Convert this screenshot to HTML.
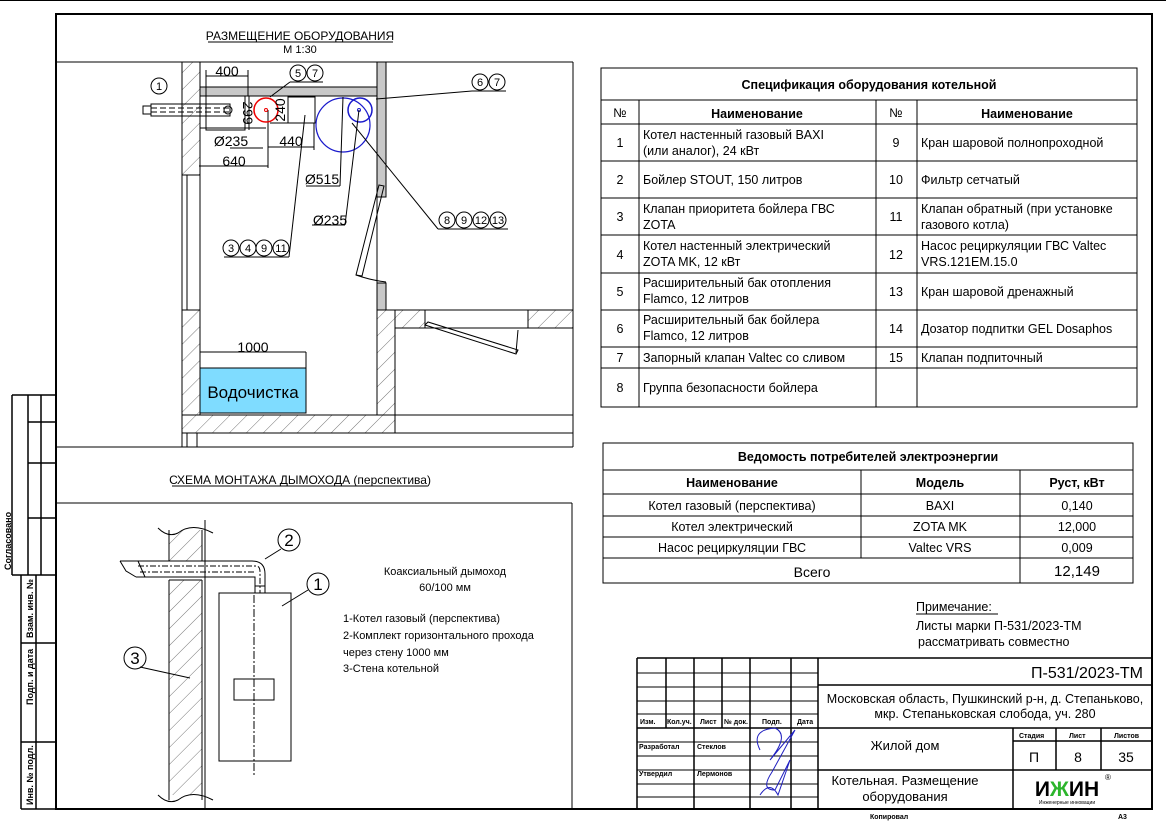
<!DOCTYPE html>
<html><head><meta charset="utf-8"><style>
html,body{margin:0;padding:0;background:#fff}
svg{display:block}
text{font-family:"Liberation Sans",sans-serif;fill:#000}
</style></head><body>
<svg width="1166" height="824" viewBox="0 0 1166 824" xmlns="http://www.w3.org/2000/svg">
<defs>
<pattern id="h" patternUnits="userSpaceOnUse" width="12" height="12" patternTransform="rotate(45)">
<rect width="12" height="12" fill="#fff"/><line x1="0" y1="0" x2="0" y2="12" stroke="#555" stroke-width="0.8"/>
</pattern>
</defs>
<line x1="0" y1="0.5" x2="1166" y2="0.5" stroke="#000"/>
<rect x="56" y="14" width="1096" height="795" fill="none" stroke="#000" stroke-width="2"/>
<g stroke="#000" stroke-width="1.5" fill="none">
<line x1="12" y1="395" x2="56" y2="395"/>
<line x1="12" y1="395" x2="12" y2="575"/>
<line x1="28" y1="395" x2="28" y2="575"/>
<line x1="41" y1="395" x2="41" y2="575"/>
<line x1="28" y1="422" x2="56" y2="422"/>
<line x1="28" y1="463" x2="56" y2="463"/>
<line x1="28" y1="518" x2="56" y2="518"/>
<line x1="12" y1="575" x2="56" y2="575"/>
<line x1="21" y1="575" x2="21" y2="809"/>
<line x1="36" y1="575" x2="36" y2="809"/>
<line x1="21" y1="643" x2="56" y2="643"/>
<line x1="21" y1="742" x2="56" y2="742"/>
<line x1="21" y1="809" x2="56" y2="809"/>
</g>
<g font-size="9" font-weight="bold">
<text transform="translate(11,570) rotate(-90)">Согласовано</text>
<text transform="translate(33,638) rotate(-90)">Взам. инв. №</text>
<text transform="translate(33,705) rotate(-90)">Подп. и дата</text>
<text transform="translate(33,805) rotate(-90)">Инв. № подл.</text>
</g>

<text x="300" y="40" font-size="12" text-anchor="middle">РАЗМЕЩЕНИЕ ОБОРУДОВАНИЯ</text>
<line x1="208" y1="42" x2="393" y2="42" stroke="#000"/>
<text x="300" y="53" font-size="11" text-anchor="middle">М 1:30</text>
<g stroke="#000" stroke-width="1" fill="none">
<line x1="56" y1="62" x2="573" y2="62"/>
<line x1="573" y1="62" x2="573" y2="447"/>
<line x1="56" y1="447" x2="573" y2="447"/>
<rect x="182" y="62" width="18" height="113" fill="url(#h)"/>
<rect x="182" y="175" width="18" height="135"/>
<line x1="187" y1="175" x2="187" y2="310"/>
<rect x="182" y="310" width="18" height="105" fill="url(#h)"/>
<rect x="182" y="415" width="213" height="18" fill="url(#h)"/>
<line x1="182" y1="433" x2="182" y2="447"/><line x1="187" y1="433" x2="187" y2="447"/><line x1="197" y1="433" x2="197" y2="447"/>
<line x1="395" y1="433" x2="573" y2="433"/>
<line x1="395" y1="415" x2="573" y2="415"/>
<rect x="200" y="87" width="177" height="9" fill="#c8c8c8"/>
<rect x="377" y="62" width="9" height="135" fill="#c8c8c8"/>
<rect x="377" y="283" width="9" height="27" fill="#c8c8c8"/>
<line x1="377" y1="197" x2="377" y2="283"/>
<polygon points="379,185 384,186 362,276 356,275"/>
<path d="M356,275 Q370,280 386,282"/>
<rect x="377" y="310" width="18" height="105" fill="url(#h)"/>
<line x1="395" y1="310" x2="573" y2="310"/>
<line x1="395" y1="328" x2="573" y2="328"/>
<rect x="395" y="310" width="30" height="18" fill="url(#h)"/>
<rect x="528" y="310" width="45" height="18" fill="url(#h)"/>
<polygon points="425,325 428,322 518,350 516,354"/>
<line x1="518" y1="330" x2="516" y2="353"/>
<rect x="206" y="96" width="39" height="34"/>
<line x1="206" y1="76" x2="248" y2="76"/><line x1="206" y1="70" x2="206" y2="130"/><line x1="248" y1="70" x2="248" y2="96"/>
<line x1="249" y1="96" x2="249" y2="130"/>
<rect x="288" y="97" width="27" height="26"/>
<line x1="270" y1="123" x2="315" y2="123"/>
<line x1="268" y1="147" x2="314" y2="147"/><line x1="314" y1="123" x2="314" y2="150"/>
<line x1="199" y1="166" x2="268" y2="166"/><line x1="268" y1="110" x2="268" y2="168"/>
<rect x="143" y="106" width="8" height="8"/>
<rect x="151" y="104" width="79" height="12"/>
<line x1="151" y1="108" x2="230" y2="108" stroke-dasharray="6,3"/>
<line x1="151" y1="112" x2="230" y2="112" stroke-dasharray="6,3"/>
<circle cx="228" cy="110" r="4"/>
</g>
<circle cx="266" cy="110" r="12" fill="none" stroke="#e00" stroke-width="1.5"/>
<circle cx="266" cy="110" r="1.5" fill="none" stroke="#e00"/>
<circle cx="343" cy="125" r="27" fill="none" stroke="#1a1acc" stroke-width="1.2"/>
<circle cx="360" cy="110" r="12" fill="none" stroke="#1a1acc" stroke-width="1.5"/>
<circle cx="359" cy="110" r="1.5" fill="none" stroke="#1a1acc"/>
<g font-size="14">
<text x="227" y="76" text-anchor="middle">400</text>
<text transform="translate(243,113) rotate(90)" text-anchor="middle">299</text>
<text transform="translate(285,110) rotate(-90)" text-anchor="middle">240</text>
<text x="231" y="146" text-anchor="middle">Ø235</text>
<text x="291" y="146" text-anchor="middle">440</text>
<text x="234" y="166" text-anchor="middle">640</text>
<text x="322" y="184" text-anchor="middle">Ø515</text>
<text x="330" y="225" text-anchor="middle">Ø235</text>
<text x="253" y="352" text-anchor="middle">1000</text>
</g>
<rect x="200" y="368" width="106" height="45" fill="#7fdcff" stroke="#000"/>
<text x="253" y="398" font-size="17" text-anchor="middle">Водочистка</text>
<g stroke="#000" fill="none" stroke-width="1">
<line x1="200" y1="352" x2="306" y2="352"/><line x1="306" y1="352" x2="306" y2="368"/>
<line x1="200" y1="128" x2="266" y2="128"/>
<line x1="230" y1="148" x2="263" y2="148"/>
<line x1="306" y1="186" x2="340" y2="186"/><line x1="340" y1="186" x2="343" y2="97"/>
<line x1="312" y1="225" x2="345" y2="225"/><line x1="345" y1="225" x2="359" y2="110"/>
<line x1="290" y1="82" x2="323" y2="82"/><line x1="290" y1="82" x2="270" y2="97"/>
<line x1="472" y1="91" x2="506" y2="91"/><line x1="472" y1="91" x2="376" y2="99"/>
<line x1="438" y1="229" x2="508" y2="229"/><line x1="438" y1="229" x2="352" y2="123"/>
<line x1="224" y1="257" x2="289" y2="257"/><line x1="289" y1="257" x2="305" y2="115"/>
</g>
<g fill="none" stroke="#000">
<circle cx="159" cy="86" r="8"/>
<circle cx="298" cy="73" r="8"/><circle cx="315" cy="73" r="8"/>
<circle cx="480" cy="82" r="8"/><circle cx="497" cy="82" r="8"/>
<circle cx="447" cy="220" r="8"/><circle cx="464" cy="220" r="8"/><circle cx="481" cy="220" r="8"/><circle cx="498" cy="220" r="8"/>
<circle cx="231" cy="248" r="8"/><circle cx="248" cy="248" r="8"/><circle cx="264" cy="248" r="8"/><circle cx="281" cy="248" r="8"/>
</g>
<g font-size="11" text-anchor="middle">
<text x="159" y="90">1</text><text x="298" y="77">5</text><text x="315" y="77">7</text>
<text x="480" y="86">6</text><text x="497" y="86">7</text>
<text x="447" y="224">8</text><text x="464" y="224">9</text><text x="481" y="224">12</text><text x="498" y="224">13</text>
<text x="231" y="252">3</text><text x="248" y="252">4</text><text x="264" y="252">9</text><text x="281" y="252">11</text>
</g>

<text x="300" y="484" font-size="12" text-anchor="middle">СХЕМА МОНТАЖА ДЫМОХОДА (перспектива)</text>
<line x1="172" y1="486" x2="428" y2="486" stroke="#000"/>
<g stroke="#000" fill="none" stroke-width="1">
<line x1="56" y1="503" x2="572" y2="503"/>
<line x1="572" y1="503" x2="572" y2="809"/>
<rect x="169" y="530" width="33" height="31" fill="url(#h)" stroke="none"/>
<rect x="169" y="580" width="33" height="215" fill="url(#h)" stroke="none"/>
<line x1="169" y1="530" x2="169" y2="561"/><line x1="202" y1="530" x2="202" y2="561"/>
<line x1="169" y1="561" x2="202" y2="561"/>
<line x1="169" y1="580" x2="202" y2="580"/>
<line x1="169" y1="580" x2="169" y2="800"/><line x1="202" y1="580" x2="202" y2="800"/>
<line x1="205" y1="520" x2="205" y2="808"/>
<path d="M158,528 Q168,538 178,533 Q192,522 213,533"/>
<path d="M158,795 Q168,805 178,800 Q192,789 213,800"/>
<path d="M120,561 L252,561 Q265,561 265,574 L265,593"/>
<path d="M136,577 L255,577 L255,593"/>
<path d="M120,561 L126,571 L136,577"/>
<path d="M138,561 L145,577" />
<path d="M138,566 L256,566 Q260,566 260,572 L260,593" stroke-dasharray="6,2,2,2"/>
<path d="M140,572 L256,572" stroke-dasharray="6,2,2,2"/>
<line x1="255" y1="586" x2="265" y2="586"/>
<rect x="219" y="593" width="72" height="168"/>
<rect x="234" y="679" width="40" height="21"/>
<line x1="254" y1="595" x2="254" y2="775" stroke-dasharray="8,2,2,2"/>
<line x1="265" y1="559" x2="281" y2="549"/>
<line x1="282" y1="606" x2="308" y2="590"/>
<line x1="140" y1="667" x2="190" y2="678"/>
<circle cx="289" cy="540" r="11"/>
<circle cx="318" cy="584" r="11"/>
<circle cx="135" cy="658" r="11"/>
</g>
<g font-size="17" text-anchor="middle">
<text x="289" y="546">2</text><text x="318" y="590">1</text><text x="135" y="664">3</text>
</g>
<g font-size="11">
<text x="445" y="575" text-anchor="middle">Коаксиальный дымоход</text>
<text x="445" y="591" text-anchor="middle">60/100 мм</text>
<text x="343" y="622">1-Котел газовый (перспектива)</text>
<text x="343" y="639">2-Комплект горизонтального прохода</text>
<text x="343" y="656">через стену 1000 мм</text>
<text x="343" y="672">3-Стена котельной</text>
</g>

<g stroke="#000" fill="none" stroke-width="1">
<rect x="601" y="68" width="536" height="339"/>
<line x1="601" y1="100" x2="1137" y2="100"/>
<line x1="601" y1="124" x2="1137" y2="124"/>
<line x1="601" y1="161" x2="1137" y2="161"/>
<line x1="601" y1="198" x2="1137" y2="198"/>
<line x1="601" y1="235" x2="1137" y2="235"/>
<line x1="601" y1="273" x2="1137" y2="273"/>
<line x1="601" y1="310" x2="1137" y2="310"/>
<line x1="601" y1="347" x2="1137" y2="347"/>
<line x1="601" y1="368" x2="1137" y2="368"/>
<line x1="639" y1="100" x2="639" y2="407"/>
<line x1="876" y1="100" x2="876" y2="407"/>
<line x1="917" y1="100" x2="917" y2="407"/>
</g>
<g font-size="12.5">
<text x="869" y="89" text-anchor="middle" font-weight="bold">Спецификация оборудования котельной</text>
<text x="620" y="117" text-anchor="middle">№</text>
<text x="757" y="118" text-anchor="middle" font-weight="bold">Наименование</text>
<text x="896" y="117" text-anchor="middle">№</text>
<text x="1027" y="118" text-anchor="middle" font-weight="bold">Наименование</text>
<g text-anchor="middle">
<text x="620" y="147">1</text><text x="620" y="184">2</text><text x="620" y="221">3</text><text x="620" y="259">4</text>
<text x="620" y="296">5</text><text x="620" y="333">6</text><text x="620" y="362">7</text><text x="620" y="392">8</text>
<text x="896" y="147">9</text><text x="896" y="184">10</text><text x="896" y="221">11</text><text x="896" y="259">12</text>
<text x="896" y="296">13</text><text x="896" y="333">14</text><text x="896" y="362">15</text>
</g>
<text x="643" y="139">Котел настенный  газовый BAXI</text>
<text x="643" y="155">(или аналог), 24 кВт</text>
<text x="643" y="184">Бойлер STOUT, 150 литров</text>
<text x="643" y="213">Клапан приоритета бойлера ГВС</text>
<text x="643" y="229">ZOTA</text>
<text x="643" y="250">Котел настенный электрический</text>
<text x="643" y="266">ZOTA MK, 12 кВт</text>
<text x="643" y="287">Расширительный бак отопления</text>
<text x="643" y="303">Flamco, 12 литров</text>
<text x="643" y="324">Расширительный бак бойлера</text>
<text x="643" y="340">Flamco, 12 литров</text>
<text x="643" y="362">Запорный клапан Valtec со сливом</text>
<text x="643" y="392">Группа безопасности бойлера</text>
<text x="921" y="147">Кран шаровой полнопроходной</text>
<text x="921" y="184">Фильтр сетчатый</text>
<text x="921" y="213">Клапан обратный (при установке</text>
<text x="921" y="229">газового котла)</text>
<text x="921" y="250">Насос рециркуляции ГВС Valtec</text>
<text x="921" y="266">VRS.121EM.15.0</text>
<text x="921" y="296">Кран шаровой дренажный</text>
<text x="921" y="333">Дозатор подпитки GEL Dosaphos</text>
<text x="921" y="362">Клапан подпиточный</text>
</g>

<g stroke="#000" fill="none" stroke-width="1">
<rect x="603" y="443" width="530" height="140"/>
<line x1="603" y1="470" x2="1133" y2="470"/>
<line x1="603" y1="494" x2="1133" y2="494"/>
<line x1="603" y1="516" x2="1133" y2="516"/>
<line x1="603" y1="537" x2="1133" y2="537"/>
<line x1="603" y1="558" x2="1133" y2="558"/>
<line x1="861" y1="470" x2="861" y2="558"/>
<line x1="1020" y1="470" x2="1020" y2="583"/>
</g>
<g font-size="12.5" text-anchor="middle">
<text x="868" y="461" font-weight="bold">Ведомость потребителей электроэнергии</text>
<text x="732" y="487" font-weight="bold">Наименование</text>
<text x="940" y="487" font-weight="bold">Модель</text>
<text x="1077" y="487" font-weight="bold">Руст, кВт</text>
<text x="732" y="510">Котел газовый (перспектива)</text>
<text x="940" y="510">BAXI</text>
<text x="1077" y="510">0,140</text>
<text x="732" y="531">Котел электрический</text>
<text x="940" y="531">ZOTA MK</text>
<text x="1077" y="531">12,000</text>
<text x="732" y="552">Насос рециркуляции ГВС</text>
<text x="940" y="552">Valtec VRS</text>
<text x="1077" y="552">0,009</text>
<text x="812" y="577" font-size="14">Всего</text>
<text x="1077" y="576" font-size="15">12,149</text>
</g>
<g font-size="12.5">
<text x="916" y="611">Примечание:</text>
<line x1="916" y1="614" x2="998" y2="614" stroke="#000"/>
<text x="916" y="630">Листы марки П-531/2023-ТМ</text>
<text x="918" y="646">рассматривать совместно</text>
</g>

<g stroke="#000" fill="none" stroke-width="1.5">
<line x1="637" y1="658" x2="1152" y2="658"/>
<line x1="637" y1="658" x2="637" y2="809"/>
<line x1="666" y1="658" x2="666" y2="728"/>
<line x1="694" y1="658" x2="694" y2="809"/>
<line x1="722" y1="658" x2="722" y2="728"/>
<line x1="750" y1="658" x2="750" y2="809"/>
<line x1="791" y1="658" x2="791" y2="809"/>
<line x1="818" y1="658" x2="818" y2="809"/>
<line x1="818" y1="685" x2="1152" y2="685"/>
<line x1="637" y1="728" x2="1152" y2="728"/>
<line x1="818" y1="770" x2="1152" y2="770"/>
<line x1="1013" y1="728" x2="1013" y2="809"/>
<line x1="1056" y1="728" x2="1056" y2="770"/>
<line x1="1101" y1="728" x2="1101" y2="770"/>
<line x1="1013" y1="741" x2="1152" y2="741"/>
</g>
<g stroke="#000" fill="none" stroke-width="1">
<line x1="637" y1="673" x2="818" y2="673"/>
<line x1="637" y1="687" x2="818" y2="687"/>
<line x1="637" y1="701" x2="818" y2="701"/>
<line x1="637" y1="714" x2="818" y2="714"/>
<line x1="637" y1="742" x2="818" y2="742"/>
<line x1="637" y1="756" x2="818" y2="756"/>
<line x1="637" y1="770" x2="818" y2="770"/>
<line x1="637" y1="784" x2="818" y2="784"/>
<line x1="637" y1="797" x2="818" y2="797"/>
</g>
<path d="M760,750 Q750,730 775,728 Q790,735 770,760 L795,730 L772,772 Q760,790 775,790 L790,760 L778,795 Q770,780 760,795" stroke="#2020c0" fill="none" stroke-width="1"/>
<g font-size="7" font-weight="bold">
<text x="640" y="724">Изм.</text><text x="667" y="724">Кол.уч.</text><text x="700" y="724">Лист</text><text x="724" y="724">№ док.</text><text x="762" y="724">Подп.</text><text x="797" y="724">Дата</text>
<text x="639" y="749">Разработал</text><text x="697" y="749">Стеклов</text>
<text x="639" y="776">Утвердил</text><text x="697" y="776">Лермонов</text>
<text x="1019" y="738">Стадия</text><text x="1069" y="738">Лист</text><text x="1114" y="738">Листов</text>
<text x="870" y="819">Копировал</text><text x="1118" y="819">А3</text>
</g>
<g text-anchor="middle">
<text x="1143" y="678" font-size="16" text-anchor="end">П-531/2023-ТМ</text>
<text x="985" y="703" font-size="12.5">Московская область, Пушкинский р-н, д. Степаньково,</text>
<text x="985" y="718" font-size="12.5">мкр. Степаньковская слобода, уч. 280</text>
<text x="905" y="750" font-size="13">Жилой дом</text>
<text x="1034" y="762" font-size="14">П</text>
<text x="1078" y="762" font-size="14">8</text>
<text x="1126" y="762" font-size="14">35</text>
<text x="905" y="785" font-size="13">Котельная. Размещение</text>
<text x="905" y="801" font-size="13">оборудования</text>
<text x="1067" y="796" font-size="21" font-weight="bold" fill="#111">И<tspan fill="#2cb52c">Ж</tspan>ИН</text>
<text x="1067" y="804" font-size="5" fill="#2cb52c">Инженерные инновации</text>
<text x="1108" y="780" font-size="8">®</text>
</g>
</svg>
</body></html>
